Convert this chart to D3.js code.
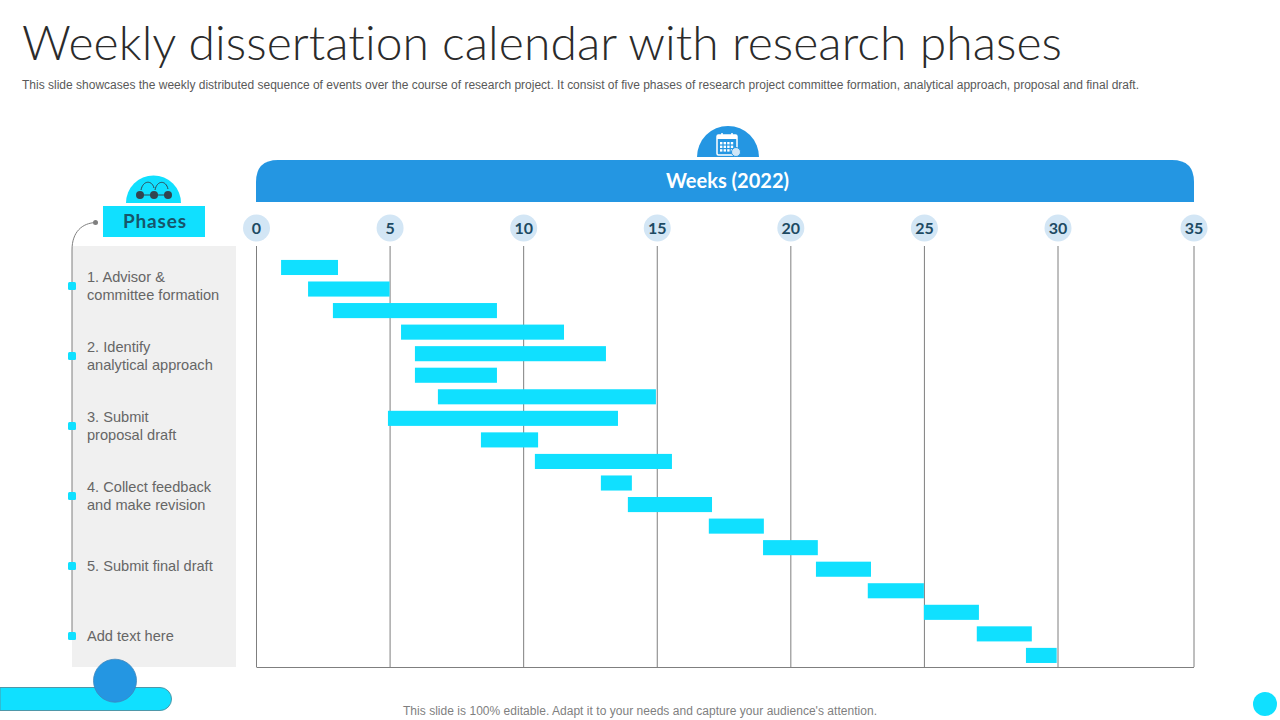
<!DOCTYPE html>
<html>
<head>
<meta charset="utf-8">
<script src="https://cdn.jsdelivr.net/npm/d3@7"></script>
<style>
  html, body { margin: 0; padding: 0; background: #fff; }
  svg { display: block; }
  text { font-family: "Liberation Sans", Arial, sans-serif; }
  .heavy { font-family: Lato, sans-serif; font-weight: 700; }
</style>
</head>
<body>
<div id="chart"></div>
<script>
// Data (weeks)
const taskStart = [0.92, 1.93, 2.86, 5.41, 5.93, 5.93, 6.79, 4.92, 8.4, 10.42, 12.89, 13.9, 16.93, 18.96, 20.94, 22.88, 24.98, 26.96, 28.8];
const taskEnd = [3.05, 4.98, 9.0, 11.51, 13.08, 9.0, 14.95, 13.53, 10.54, 15.55, 14.05, 17.05, 18.99, 21.01, 23.0, 24.98, 27.04, 29.02, 29.95];
const weekTicks = [0, 5, 10, 15, 20, 25, 30, 35];
const phaseLabels = [
    ["1. Advisor &", "committee formation"],
    ["2. Identify", "analytical approach"],
    ["3. Submit", "proposal draft"],
    ["4. Collect feedback", "and make revision"],
    ["5. Submit final draft"],
    ["Add text here"]
];

const cyan = "#10E0FF";
const blue = "#2496E2";

const svg = d3.select("#chart")
    .append("svg")
    .attr("width", 1280)
    .attr("height", 720);

// Title and subtitle
svg.append("text")
    .attr("x", 22)
    .attr("y", 60)
    .attr("textLength", 1040)
    .attr("fill", "#2b2b2b")
    .style("font-family", "Lato, sans-serif")
    .style("font-weight", 300)
    .style("font-variant-ligatures", "none")
    .style("font-size", "48px")
    .text("Weekly dissertation calendar with research phases");

svg.append("text")
    .attr("x", 22)
    .attr("y", 89)
    .attr("textLength", 1117)
    .attr("fill", "#595959")
    .style("font-size", "12px")
    .text("This slide showcases the weekly distributed sequence of events over the course of research project. It consist of five  phases of research project committee formation, analytical approach, proposal and final draft.");

// Scales (the last stretch of the axis in the picture is slightly wider)
const x = d3.scaleLinear().domain([0, 30, 35]).range([256.5, 1058, 1194]);
const y = d3.scaleBand()
    .domain(d3.range(taskStart.length))
    .range([256.7, 666.2])
    .paddingInner(0.3)
    .paddingOuter(0.15);
const phaseY = d3.scalePoint()
    .domain(d3.range(phaseLabels.length))
    .range([286, 636]);

// Phases column
svg.append("rect")
    .attr("x", 72).attr("y", 246)
    .attr("width", 164).attr("height", 421)
    .attr("fill", "#F0F0F0");

svg.append("path")
    .attr("d", "M96,222.5 C82,223 72,232 72,250 L72,636")
    .attr("fill", "none")
    .attr("stroke", "#7f7f7f")
    .attr("stroke-width", 1);

svg.append("circle")
    .attr("cx", 95.5).attr("cy", 222.5).attr("r", 2.5)
    .attr("fill", "#7f7f7f");

const phaseRows = svg.selectAll(".phase")
    .data(phaseLabels)
    .join("g")
    .attr("class", "phase")
    .attr("transform", (d, i) => `translate(0,${phaseY(i)})`);

phaseRows.append("rect")
    .attr("x", 68).attr("y", -4)
    .attr("width", 8).attr("height", 8)
    .attr("rx", 1.5)
    .attr("fill", cyan);

phaseRows.append("text")
    .attr("fill", "#666")
    .style("font-size", "14.6px")
    .selectAll("tspan")
    .data(d => d)
    .join("tspan")
    .attr("x", 87)
    .attr("y", (d, i, nodes) => nodes.length === 1 ? 5 : -4 + i * 18)
    .text(d => d);

// Phases header
svg.append("path")
    .attr("d", d3.arc()({ innerRadius: 0, outerRadius: 27.5, startAngle: -Math.PI / 2, endAngle: Math.PI / 2 }))
    .attr("transform", "translate(153.5,203)")
    .attr("fill", cyan);

svg.append("rect")
    .attr("x", 103).attr("y", 206)
    .attr("width", 102).attr("height", 31)
    .attr("fill", cyan);

svg.append("text")
    .attr("class", "heavy")
    .attr("x", 154.5).attr("y", 228)
    .attr("text-anchor", "middle")
    .attr("textLength", 63)
    .attr("fill", "#17566b")
    .style("font-size", "19px")
    .text("Phases");

// little nodes icon
[140, 154, 168].forEach(cx => {
    svg.append("circle")
        .attr("cx", cx).attr("cy", 195).attr("r", 4)
        .attr("fill", "#33444f");
});
svg.append("path")
    .attr("d", "M140,195 L168,195 M141,190 C143,180 152,180 154,188 M155,190 C157,180 166,180 168,189")
    .attr("fill", "none")
    .attr("stroke", "#33444f")
    .attr("stroke-width", 1);

// Weeks header
svg.append("path")
    .attr("d", d3.arc()({ innerRadius: 0, outerRadius: 31, startAngle: -Math.PI / 2, endAngle: Math.PI / 2 }))
    .attr("transform", "translate(728,157)")
    .attr("fill", blue);

svg.append("path")
    .attr("d", "M256,202 L256,182 Q256,160 278,160 L1172,160 Q1194,160 1194,182 L1194,202 Z")
    .attr("fill", blue);

svg.append("text")
    .attr("class", "heavy")
    .attr("x", 727.5).attr("y", 188)
    .attr("text-anchor", "middle")
    .attr("textLength", 123)
    .attr("fill", "#fff")
    .style("font-size", "20px")
    .text("Weeks (2022)");

// calendar icon
const cal = svg.append("g").attr("transform", "translate(717,133)");
cal.append("rect")
    .attr("width", 20).attr("height", 20).attr("y", 2).attr("rx", 1.5)
    .attr("fill", "none").attr("stroke", "#fff").attr("stroke-width", 1.5);
cal.append("rect")
    .attr("width", 20).attr("height", 4).attr("y", 2)
    .attr("fill", "#fff");
cal.append("path")
    .attr("d", "M5,0 L5,4 M15,0 L15,4")
    .attr("stroke", "#fff").attr("stroke-width", 1.5);
cal.selectAll(".cell")
    .data(d3.range(12))
    .join("rect")
    .attr("class", "cell")
    .attr("x", d => 3 + (d % 4) * 3.6)
    .attr("y", d => 9 + Math.floor(d / 4) * 3.6)
    .attr("width", 2.4).attr("height", 2.4)
    .attr("fill", "#fff");
cal.append("circle")
    .attr("cx", 19).attr("cy", 19).attr("r", 4.5)
    .attr("fill", "#cfe6f7").attr("stroke", blue);

// Gridlines and baseline
const gridAxis = svg.append("g")
    .attr("transform", "translate(-0.5,667)")
    .call(d3.axisBottom(x).tickValues(weekTicks).tickSize(-421).tickSizeOuter(0).tickFormat(""));
gridAxis.selectAll("line").attr("stroke", "#7f7f7f");
gridAxis.select(".domain").attr("stroke", "#7f7f7f");

// Week labels
const topAxis = svg.append("g")
    .attr("transform", "translate(-0.5,228)")
    .call(d3.axisTop(x).tickValues(weekTicks).tickSize(0).tickPadding(0));
topAxis.select(".domain").remove();
topAxis.selectAll(".tick").insert("circle", "text")
    .attr("r", 13.5)
    .attr("fill", "#D3E6F5");
topAxis.selectAll(".tick text")
    .attr("y", 0)
    .attr("dy", "0.36em")
    .attr("fill", "#1d4a63")
    .attr("class", "heavy")
    .style("font-size", "16px");

// Bars
svg.selectAll(".bar")
    .data(taskStart)
    .join("rect")
    .attr("class", "bar")
    .attr("x", d => x(d))
    .attr("y", (d, i) => y(i))
    .attr("width", (d, i) => x(taskEnd[i]) - x(d))
    .attr("height", y.bandwidth())
    .attr("fill", cyan);

// Bottom decoration
svg.append("path")
    .attr("d", "M0,687.5 L160,687.5 A11.5,11.5 0 0 1 160,710.5 L0,710.5 Z")
    .attr("fill", cyan)
    .attr("stroke", "#4f97a8")
    .attr("stroke-width", 1);

svg.append("circle")
    .attr("cx", 115).attr("cy", 680.7).attr("r", 21.5)
    .attr("fill", blue)
    .attr("stroke", "#3f86bd")
    .attr("stroke-width", 0.8);

svg.append("circle")
    .attr("cx", 1265).attr("cy", 704).attr("r", 12)
    .attr("fill", cyan);

svg.append("text")
    .attr("x", 640).attr("y", 715)
    .attr("text-anchor", "middle")
    .attr("textLength", 474)
    .attr("fill", "#7f7f7f")
    .style("font-size", "12px")
    .text("This slide is 100% editable. Adapt it to your needs and capture your audience's attention.");
</script>
</body>
</html>
